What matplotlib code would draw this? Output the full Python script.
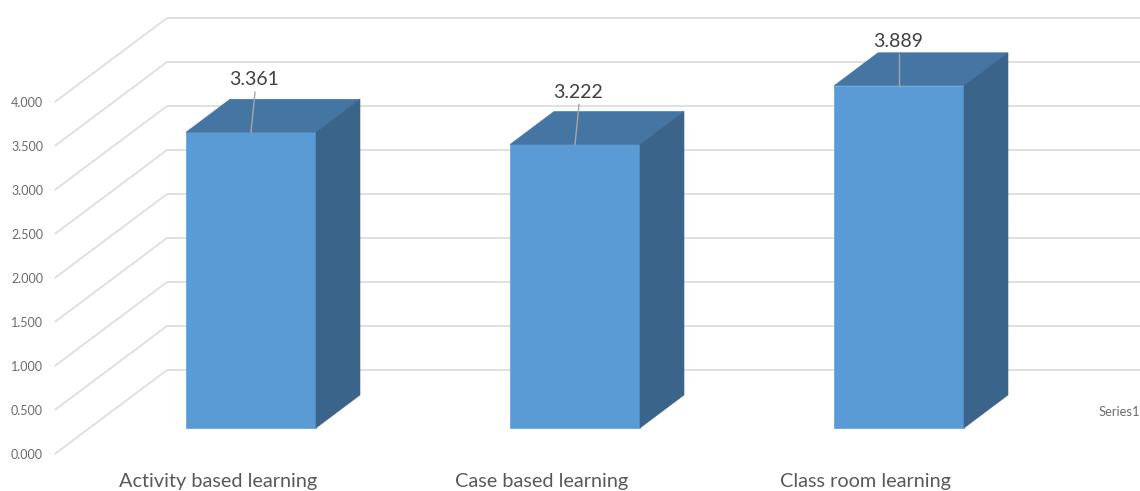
import matplotlib
matplotlib.use("Agg")
import matplotlib.pyplot as plt
from matplotlib.patches import Polygon

categories = ["Activity based learning", "Case based learning", "Class room learning"]
values = [3.361, 3.222, 3.889]
value_labels = ["3.361", "3.222", "3.889"]
tick_values = [0.0, 0.5, 1.0, 1.5, 2.0, 2.5, 3.0, 3.5, 4.0]
series_name = "Series1"

W, H = 1140, 491
PX_X = 324.0   # pixels per category
PX_Y = 88.0    # pixels per unit
X0 = 251.0     # pixel of first category
Y0 = 428.0     # pixel of value 0 at bar front


def dx(px):
    return px / PX_X


def dy(px):
    return px / PX_Y


fig = plt.figure(figsize=(W / 100, H / 100), dpi=100, facecolor="white")
ax = fig.add_axes([0, 0, 1, 1])
ax.set_xlim(-X0 / PX_X, (W - X0) / PX_X)
ax.set_ylim((Y0 - H) / PX_Y, Y0 / PX_Y)
ax.axis("off")

GRID = "#E0E0E0"
TICK = "#6B6B6B"
plt.rcParams["font.family"] = ["Lato", "DejaVu Sans"]

# gridlines: front-left stub -> back wall -> right end
x_front = ax.get_xlim()[0] + dx(55.5)
x_back = ax.get_xlim()[0] + dx(167)
x_end = ax.get_xlim()[0] + dx(1139)
back_off = dy(Y0 - 370)
front_off = dy(Y0 - 453.5)
for t in tick_values:
    ax.plot([x_front, x_back, x_end],
            [t + front_off, t + back_off, t + back_off],
            color=GRID, lw=1.4, solid_joinstyle="miter", zorder=1)
    ax.text(ax.get_xlim()[0] + dx(43), t + front_off - dy(1.2), f"{t:.3f}",
            ha="right", va="center", fontsize=9.0, color=TICK, zorder=5)

# bars
half = 65.0 / PX_X
ddx, ddy = dx(44), dy(33)
for i, v in enumerate(values):
    l, r = i - half, i + half
    ax.add_patch(Polygon([(l, 0), (r, 0), (r, v), (l, v)], closed=True,
                         fc="#5B9BD5", ec="#6AA6DC", lw=0.6, zorder=3))
    ax.add_patch(Polygon([(l, v), (r, v), (r + ddx, v + ddy), (l + ddx, v + ddy)], closed=True,
                         fc="#4575A2", ec="#4575A2", lw=0.4, zorder=3))
    ax.add_patch(Polygon([(r, 0), (r + ddx, ddy), (r + ddx, v + ddy), (r, v)], closed=True,
                         fc="#3A648A", ec="#3A648A", lw=0.4, zorder=3))

# leader lines and data labels
leader_dx = [dx(4), dx(4), 0.0]
leader_len = [40, 40, 32]
label_off = [53, 52, 44.5]
for i, (v, s) in enumerate(zip(values, value_labels)):
    ax.plot([i, i + leader_dx[i]], [v, v + dy(leader_len[i])],
            color="#A6A6A6", lw=1.0, zorder=4)
    ax.text(i + leader_dx[i] - dx(1), v + dy(label_off[i]), s, ha="center", va="center",
            fontsize=14, color="#404040", zorder=5)

# category labels
for i, c in enumerate(categories):
    ax.text(i - dx(33), dy(Y0 - 481.5), c, ha="center", va="center",
            fontsize=14.3, color="#595959", zorder=5)

ax.text(ax.get_xlim()[0] + dx(1140.5), dy(Y0 - 412), series_name, ha="right", va="center",
        fontsize=9.3, color=TICK, zorder=5)

fig.savefig("out.png", dpi=100, facecolor="white")
